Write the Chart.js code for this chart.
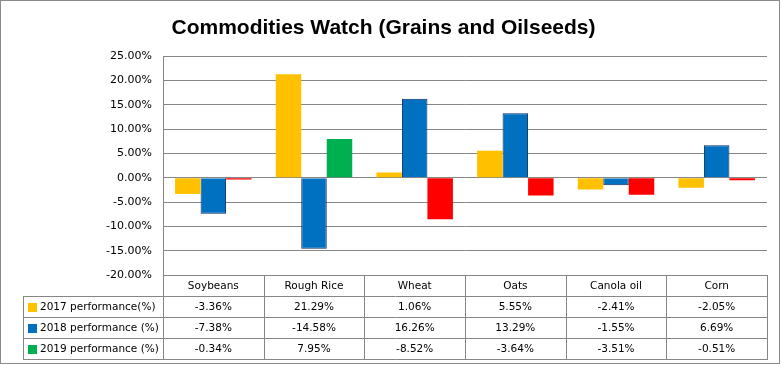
<!DOCTYPE html>
<html>
<head>
<meta charset="utf-8">
<script src="https://cdn.jsdelivr.net/npm/chart.js@4"></script>
<style>
  html, body { margin: 0; padding: 0; background: #fff; }
  #wrap { width: 782px; height: 366px; position: relative; }
</style>
</head>
<body>
<div id="wrap"><canvas id="commoditiesChart"></canvas></div>
<script>
// categories and yearly performance (%)
const categories = ['Soybeans', 'Rough Rice', 'Wheat', 'Oats', 'Canola oil', 'Corn'];
const perf2017 = [-3.36, 21.29, 1.06, 5.55, -2.41, -2.05];
const perf2018 = [-7.38, -14.58, 16.26, 13.29, -1.55, 6.69];
const perf2019 = [-0.34, 7.95, -8.52, -3.64, -3.51, -0.51];
const seriesNames = ['2017 performance(%)', '2018 performance (%)', '2019 performance (%)'];

const yellow = '#FFC000';
const blue = '#0070C0';
const green = '#00B050';
const red = '#FF0000';
const lineGray = '#868686';
const tableFont = '10.5px "DejaVu Sans"';

// 2019 bars switch to red when negative (Excel "invert if negative")
const colors2019 = perf2019.map(v => v < 0 ? red : green);

// draws the data table under the plot and the outer frame
const dataTablePlugin = {
    id: 'dataTable',
    afterDraw(chart) {
        const ctx = chart.ctx;
        const area = chart.chartArea;
        const xs = chart.scales.x;
        const n = categories.length;
        const colW = (area.right - area.left) / n;
        const rowH = 21;
        const top = area.bottom;
        const labelLeft = 23;
        const rows = [perf2017, perf2018, perf2019];
        const keyColors = [yellow, blue, green];

        ctx.save();
        ctx.strokeStyle = lineGray;
        ctx.lineWidth = 1;

        // vertical lines at category edges
        for (let i = 0; i <= n; i++) {
            const x = Math.round(area.left + i * colW) + 0.5;
            ctx.beginPath();
            ctx.moveTo(x, top);
            ctx.lineTo(x, top + rowH * 4);
            ctx.stroke();
        }
        // left column line
        ctx.beginPath();
        ctx.moveTo(labelLeft + 0.5, top + rowH);
        ctx.lineTo(labelLeft + 0.5, top + rowH * 4);
        ctx.stroke();
        // horizontal lines
        for (let r = 1; r <= 4; r++) {
            const y = top + r * rowH + 0.5;
            ctx.beginPath();
            ctx.moveTo(labelLeft, y);
            ctx.lineTo(area.right + 1, y);
            ctx.stroke();
        }

        ctx.fillStyle = '#000';
        ctx.font = tableFont;
        ctx.textBaseline = 'middle';
        ctx.textAlign = 'center';
        categories.forEach((c, i) => {
            ctx.fillText(c, xs.getPixelForValue(i), top + rowH / 2 + 1);
        });

        rows.forEach((vals, r) => {
            const yMid = top + rowH * (r + 1) + rowH / 2 + 1;
            ctx.fillStyle = keyColors[r];
            ctx.fillRect(labelLeft + 5, Math.round(yMid - 5), 9, 9);
            ctx.fillStyle = '#000';
            ctx.textAlign = 'left';
            ctx.fillText(seriesNames[r], labelLeft + 17, yMid);
            ctx.textAlign = 'center';
            vals.forEach((v, i) => {
                ctx.fillText(v.toFixed(2) + '%', xs.getPixelForValue(i), yMid);
            });
        });

        // chart frame
        ctx.strokeStyle = '#8a8a8a';
        ctx.strokeRect(0.5, 0.5, chart.width - 3, chart.height - 3);
        ctx.restore();
    }
};

const ctx = document.getElementById('commoditiesChart');
new Chart(ctx.getContext('2d'), {
    type: 'bar',
    data: {
        labels: categories,
        datasets: [
            { label: seriesNames[0], data: perf2017, backgroundColor: yellow, borderWidth: 0 },
            { label: seriesNames[1], data: perf2018, backgroundColor: blue, borderColor: '#0A2A5E', borderWidth: 1 },
            { label: seriesNames[2], data: perf2019, backgroundColor: colors2019, borderWidth: 0 }
        ]
    },
    options: {
        responsive: true,
        maintainAspectRatio: false,
        animation: false,
        events: [],
        datasets: {
            bar: { barPercentage: 1.0, categoryPercentage: 0.76 }
        },
        layout: {
            padding: { left: 0, right: 15, top: 0, bottom: 91 }
        },
        plugins: {
            legend: { display: false },
            tooltip: { enabled: false },
            title: {
                display: true,
                text: 'Commodities Watch (Grains and Oilseeds)',
                color: '#000',
                font: { family: '"Liberation Sans"', size: 21, weight: 'bold', lineHeight: 1.2 },
                padding: { top: 16, bottom: 15 }
            }
        },
        scales: {
            x: {
                display: false
            },
            y: {
                min: -20,
                max: 25,
                afterFit(scale) { scale.width = 163; },
                ticks: {
                    stepSize: 5,
                    padding: 11,
                    color: '#000',
                    font: { family: '"DejaVu Sans"', size: 11 },
                    callback: v => v.toFixed(2) + '%'
                },
                grid: { color: lineGray, drawTicks: false },
                border: { display: true, color: lineGray }
            }
        }
    },
    plugins: [dataTablePlugin]
});
</script>
</body>
</html>
